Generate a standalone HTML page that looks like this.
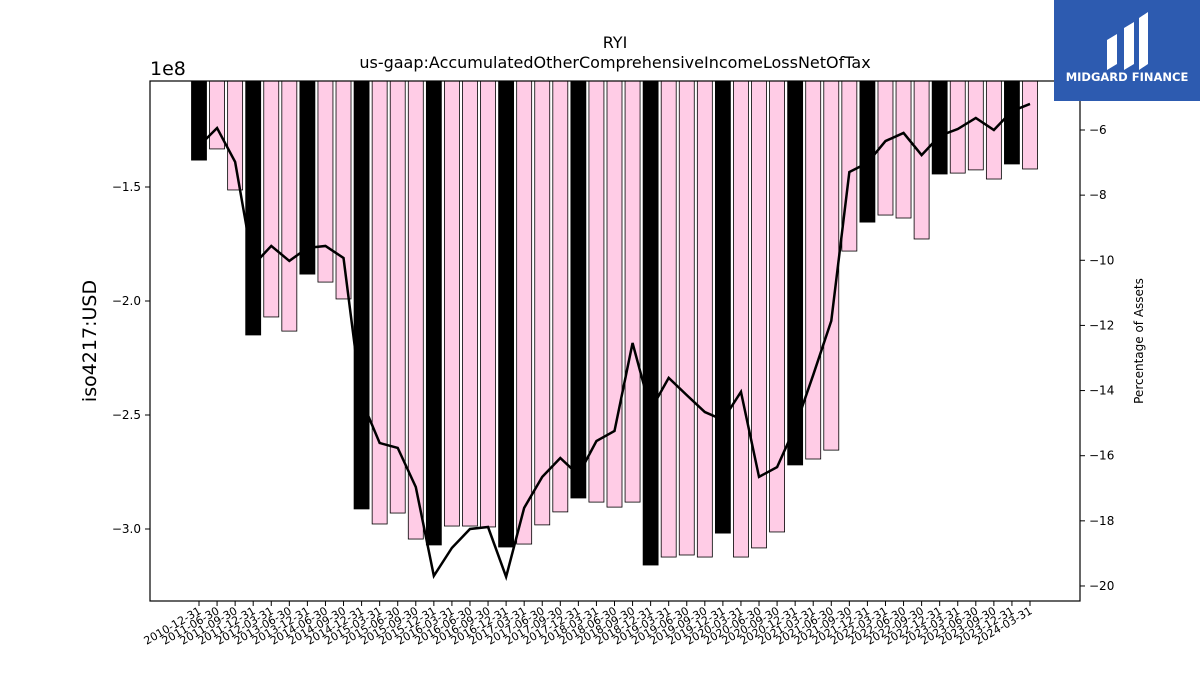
<!DOCTYPE html>
<html><head><meta charset="utf-8"><style>
body{margin:0;background:#fff;font-family:"Liberation Sans","DejaVu Sans",sans-serif}
</style></head><body>
<svg id="c" width="1200" height="675" viewBox="0 0 1200 675" xmlns="http://www.w3.org/2000/svg" font-family="DejaVu Sans, Liberation Sans, sans-serif">
<text x="615" y="48" text-anchor="middle" font-size="16">RYI</text>
<text x="615" y="68" text-anchor="middle" font-size="16">us-gaap:AccumulatedOtherComprehensiveIncomeLossNetOfTax</text>
<g id="bars"></g>
<g id="line"></g>
<rect x="150" y="81" width="930" height="520" fill="none" stroke="#000" stroke-width="1.2"/>
<g id="axes" font-size="12"></g>
<text x="150" y="75" font-size="19">1e8</text>
<text transform="translate(96,341) rotate(-90)" text-anchor="middle" font-size="19">iso4217:USD</text>
<text transform="translate(1143,341) rotate(-90)" text-anchor="middle" font-size="12">Percentage of Assets</text>
<g>
<rect x="1054" y="0" width="146" height="101" fill="#2d5bb0"/>
<path d="M1107 70 V40 L1117 34 V64 Z M1124 70 V28 L1134 22 V64 Z M1139 70 V18 L1148 12 V64 Z" fill="#fff"/>
<text x="1127" y="81" text-anchor="middle" font-size="11.5" font-weight="bold" fill="#fff">MIDGARD FINANCE</text>
</g>
</svg>
<script>
const dates=["2010-12-31","2011-06-30","2011-09-30","2011-12-31","2012-03-31","2013-06-30","2013-12-31","2014-06-30","2014-09-30","2014-12-31","2015-03-31","2015-06-30","2015-09-30","2015-12-31","2016-03-31","2016-06-30","2016-09-30","2016-12-31","2017-03-31","2017-06-30","2017-09-30","2017-12-31","2018-03-31","2018-06-30","2018-09-30","2018-12-31","2019-03-31","2019-06-30","2019-09-30","2019-12-31","2020-03-31","2020-06-30","2020-09-30","2020-12-31","2021-03-31","2021-06-30","2021-09-30","2021-12-31","2022-03-31","2022-06-30","2022-09-30","2022-12-31","2023-03-31","2023-06-30","2023-09-30","2023-12-31","2024-03-31"];
const values=[-1.382,-1.333,-1.513,-2.149,-2.070,-2.132,-1.882,-1.917,-1.991,-2.912,-2.978,-2.930,-3.044,-3.070,-2.987,-2.987,-2.991,-3.079,-3.066,-2.982,-2.925,-2.864,-2.882,-2.904,-2.882,-3.158,-3.123,-3.114,-3.123,-3.018,-3.123,-3.083,-3.013,-2.719,-2.693,-2.654,-1.781,-1.654,-1.623,-1.636,-1.728,-1.443,-1.439,-1.425,-1.465,-1.399,-1.421];
const pct=[-6.49,-5.94,-6.98,-10.15,-9.56,-10.02,-9.62,-9.56,-9.93,-14.29,-15.61,-15.76,-16.96,-19.69,-18.83,-18.25,-18.19,-19.72,-17.60,-16.65,-16.07,-16.59,-15.55,-15.24,-12.54,-14.60,-13.61,-14.14,-14.66,-14.90,-14.04,-16.65,-16.35,-15.12,-13.52,-11.86,-7.29,-7.01,-6.34,-6.09,-6.77,-6.18,-5.97,-5.63,-6.00,-5.42,-5.20];
const leftTicks=[-1.5,-2.0,-2.5,-3.0];
const rightTicks=[-6,-8,-10,-12,-14,-16,-18,-20];
const NS="http://www.w3.org/2000/svg";
const L=150,R=1080,T=81,B=601;
const yL=v=>187+(-1.5-v)*228;
const yR=v=>130+(-6-v)*32.57;
const x=i=>199+i*(1030-199)/(dates.length-1);
function mk(t,a,p){const e=document.createElementNS(NS,t);for(const k in a)e.setAttribute(k,a[k]);p.appendChild(e);return e;}
const bars=document.getElementById('bars'),line=document.getElementById('line'),axes=document.getElementById('axes');
values.forEach((v,i)=>{
 const q4=dates[i].endsWith("12-31");
 const yb=Math.min(yL(v),B);
 const r=mk('rect',{x:x(i)-7.5,y:T,width:15,height:Math.max(0,yb-T),fill:q4?'#000':'#ffcce6',stroke:'#000','stroke-width':0.8},bars);
 
 
});
const pl=mk('polyline',{points:pct.map((v,i)=>x(i)+','+yR(v)).join(' '),fill:'none',stroke:'#000','stroke-width':2.5},line);


leftTicks.forEach(v=>{const y=yL(v);
 mk('line',{x1:L-5,x2:L,y1:y,y2:y,stroke:'#000'},axes);
 const t=mk('text',{x:L-9,y:y+4,'text-anchor':'end'},axes);t.textContent=v.toFixed(1).replace('-','\u2212');
 
 
});
rightTicks.forEach(v=>{const y=yR(v);
 mk('line',{x1:R,x2:R+5,y1:y,y2:y,stroke:'#000'},axes);
 const t=mk('text',{x:R+9,y:y+4},axes);t.textContent=String(v).replace('-','\u2212');
 
 
});
dates.forEach((d,i)=>{const xx=x(i);
 mk('line',{x1:xx,x2:xx,y1:B,y2:B+5,stroke:'#000'},axes);
 const t=mk('text',{x:xx+3,y:B+12,'text-anchor':'end','font-size':11,transform:`rotate(-30 ${xx+3} ${B+12})`},axes);t.textContent=d;
 
 
});
</script>
</body></html>
